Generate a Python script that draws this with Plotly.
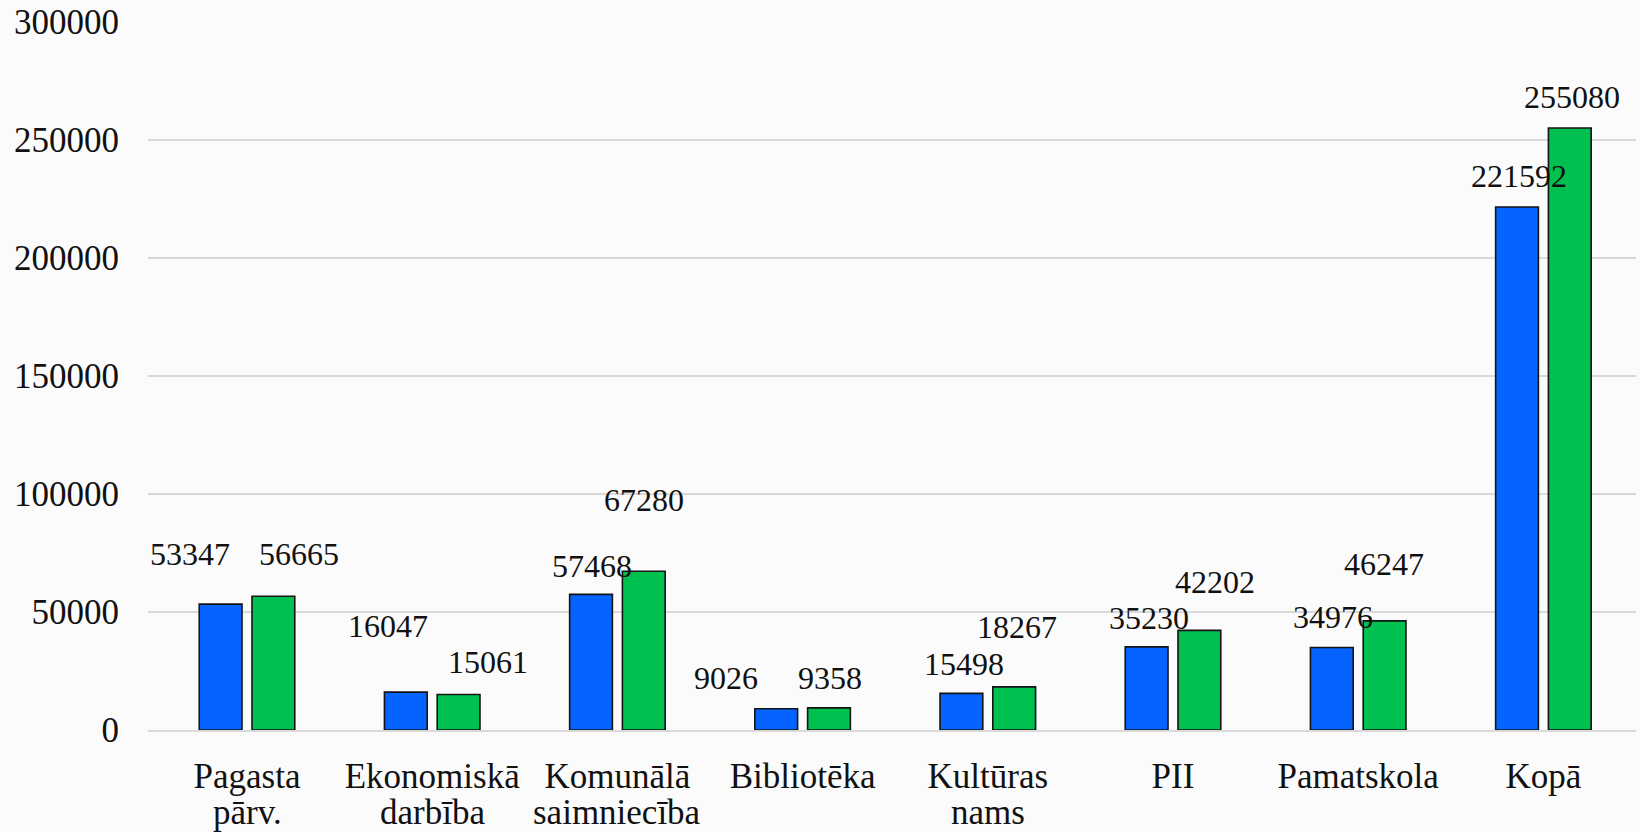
import plotly.graph_objects as go

categories = ["Pagasta pārv.", "Ekonomiskā darbība", "Komunālā saimniecība",
              "Bibliotēka", "Kultūras nams", "PII", "Pamatskola", "Kopā"]
series_a = [53347, 16047, 57468, 9026, 15498, 35230, 34976, 221592]
series_b = [56665, 15061, 67280, 9358, 18267, 42202, 46247, 255080]
y_ticks = [0, 50000, 100000, 150000, 200000, 250000, 300000]

# label offsets (pixels) relative to bar top / category centre
a_xshift = [-57, -44, -25, -77, -24, -24, -25, -24]
a_yshift = [50, 66, 28, 31, 29, 29, 30, 31]
b_xshift = [52, 56, 27, 27, 29, 42, 26, 29]
b_yshift = [42, 32, 71, 30, 60, 48, 57, 31]

BLUE = "#0563FF"
GREEN = "#00C050"
FONT = "Liberation Serif"
TXT = "#111111"

first_lines = [c.split(" ", 1)[0] for c in categories]
second_lines = [c.split(" ", 1)[1] if " " in c else "" for c in categories]

fig = go.Figure()
fig.add_trace(go.Bar(x=categories, y=series_a, marker=dict(color=BLUE, line=dict(color="#141414", width=1.6)), name="A"))
fig.add_trace(go.Bar(x=categories, y=series_b, marker=dict(color=GREEN, line=dict(color="#141414", width=1.6)), name="B"))

annotations = []
for i, c in enumerate(categories):
    annotations.append(dict(x=c, y=series_a[i], xref="x", yref="y", text=str(series_a[i]),
                            showarrow=False, xanchor="center", yanchor="middle",
                            xshift=a_xshift[i], yshift=a_yshift[i],
                            font=dict(family=FONT, size=32, color=TXT)))
    annotations.append(dict(x=c, y=series_b[i], xref="x", yref="y", text=str(series_b[i]),
                            showarrow=False, xanchor="center", yanchor="middle",
                            xshift=b_xshift[i], yshift=b_yshift[i],
                            font=dict(family=FONT, size=32, color=TXT)))
    if second_lines[i]:
        annotations.append(dict(x=c, y=0, xref="x", yref="y", text=second_lines[i],
                                showarrow=False, xanchor="center", yanchor="middle",
                                yshift=-82, font=dict(family=FONT, size=35, color=TXT)))

fig.update_layout(
    width=1640, height=832,
    margin=dict(l=148, r=4, t=22, b=102),
    paper_bgcolor="#FBFBFB", plot_bgcolor="#FBFBFB",
    barmode="group", bargap=0.43, bargroupgap=0.19,
    showlegend=False,
    font=dict(family=FONT, size=34, color=TXT),
    annotations=annotations,
)
fig.update_yaxes(range=[0, 300000], tickvals=y_ticks, ticktext=[str(v) for v in y_ticks],
                 showgrid=True, gridcolor="#D9D9D9", gridwidth=2, zeroline=False,
                 showline=False, ticks="", ticklabelstandoff=28, automargin=False,
                 tickfont=dict(family=FONT, size=35, color=TXT))
fig.update_xaxes(showgrid=False, showline=True, linecolor="#D9D9D9", linewidth=2,
                 ticks="", ticklabelstandoff=14, automargin=False,
                 tickvals=categories, ticktext=first_lines,
                 tickfont=dict(family=FONT, size=35, color=TXT))

fig.write_html("out.html", config={"displayModeBar": False},
               post_script="document.body.style.margin='0';document.body.style.overflow='hidden';")
